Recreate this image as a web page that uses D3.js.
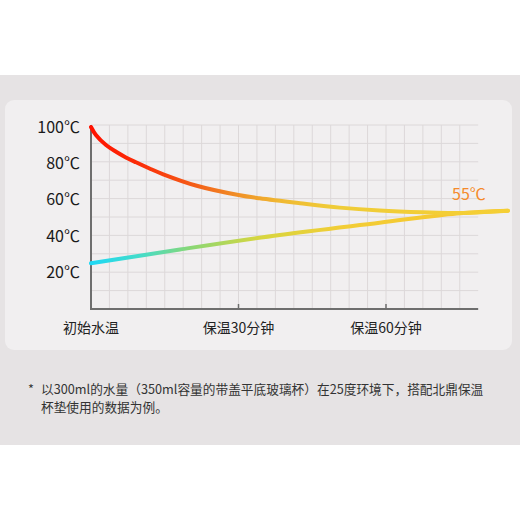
<!DOCTYPE html>
<html>
<head>
<meta charset="utf-8">
<script src="https://cdn.jsdelivr.net/npm/d3@7"></script>
<style>
  html, body { margin: 0; padding: 0; background: #fff; }
  svg { display: block; font-family: "Noto Sans CJK SC", "Noto Sans", sans-serif; }
</style>
</head>
<body>
<div id="chart"></div>
<script>
// minutes / degrees
const hotTime = [0, 1.0, 3.05, 5.1, 7.1, 9.15, 11.9, 14.7, 21.5, 30, 34.3, 42.5, 50.6, 58.7, 67.5, 74.4, 84.8];
const hotTemp = [100, 95.6, 90.1, 86.4, 83.3, 80.6, 77.2, 74.0, 67.7, 62.6, 60.8, 58.1, 55.7, 54.1, 53.1, 52.7, 54];
const coolTime = [0, 18.1, 38.4, 58.7, 74.4, 84.8];
const coolTemp = [25.1, 32.7, 40.7, 47.4, 52.5, 54];

const yTicks = [20, 40, 60, 80, 100];
const xTicks = [0, 30, 60];
const xTickLabels = ["初始水温", "保温30分钟", "保温60分钟"];
const endLabel = "55℃";
const note = [
    "以300ml的水量（350ml容量的带盖平底玻璃杯）在25度环境下，搭配北鼎保温",
    "杯垫使用的数据为例。"
];

const width = 520, height = 520;

const svg = d3.select("#chart")
    .append("svg")
    .attr("width", width)
    .attr("height", height)
    .attr("viewBox", [0, 0, width, height]);

// backgrounds
svg.append("rect").attr("x", 0).attr("y", 75).attr("width", width).attr("height", 370).attr("fill", "#e6e3e4");
svg.append("rect").attr("x", 5).attr("y", 100).attr("width", 507).attr("height", 250)
    .attr("rx", 9).attr("fill", "#f1eff0");

const x = d3.scaleLinear().domain([0, 60]).range([91, 386]);
const y = d3.scaleLinear().domain([0, 100]).range([309, 127]);

const xEnd = 78.75;      // 21 grid columns of 3.75 min
const plotTop = 125;

// grid
const grid = svg.append("g").attr("stroke", "#dcd8d9").attr("stroke-width", 1);
grid.selectAll(".v")
    .data(d3.range(1, 21).map(i => i * 3.75))
    .join("line")
    .attr("x1", d => x(d)).attr("x2", d => x(d))
    .attr("y1", plotTop).attr("y2", y(0));
const rowH = (y(0) - plotTop) / 10;
grid.selectAll(".h")
    .data(d3.range(0, 10))
    .join("line")
    .attr("x1", x(0)).attr("x2", x(xEnd))
    .attr("y1", d => plotTop + d * rowH).attr("y2", d => plotTop + d * rowH);

// axes
svg.append("line")
    .attr("x1", x(0)).attr("x2", x(0))
    .attr("y1", plotTop).attr("y2", y(0))
    .attr("stroke", "#6e6e6e").attr("stroke-width", 2);
svg.append("line")
    .attr("x1", x(0) - 1).attr("x2", x(xEnd))
    .attr("y1", y(0)).attr("y2", y(0))
    .attr("stroke", "#6e6e6e").attr("stroke-width", 2);
svg.append("g")
    .selectAll("line")
    .data(xTicks.slice(1))
    .join("line")
    .attr("x1", d => x(d)).attr("x2", d => x(d))
    .attr("y1", y(0)).attr("y2", y(0) - 5)
    .attr("stroke", "#6e6e6e").attr("stroke-width", 1.5);

// tick labels
svg.append("g")
    .attr("font-size", 16)
    .attr("fill", "#1a1a1a")
    .attr("text-anchor", "end")
    .selectAll("text")
    .data(yTicks)
    .join("text")
    .attr("x", 80)
    .attr("y", d => y(d))
    .attr("dy", "0.35em")
    .text(d => d + "℃");

svg.append("g")
    .attr("font-size", 14)
    .attr("fill", "#222")
    .attr("text-anchor", "middle")
    .selectAll("text")
    .data(xTicks)
    .join("text")
    .attr("x", d => x(d))
    .attr("y", 328)
    .attr("dy", "0.35em")
    .text((d, i) => xTickLabels[i]);

// gradients along x
const defs = svg.append("defs");
const addGradient = (id, stops) => {
    defs.append("linearGradient")
        .attr("id", id)
        .attr("gradientUnits", "userSpaceOnUse")
        .attr("x1", x(0)).attr("x2", x(85))
        .attr("y1", 0).attr("y2", 0)
        .selectAll("stop")
        .data(stops)
        .join("stop")
        .attr("offset", d => d[0])
        .attr("stop-color", d => d[1]);
};
addGradient("hotGrad", [[0, "#ff1200"], [0.12, "#fb2e08"], [0.25, "#f45f18"], [0.36, "#f09428"], [0.45, "#f0b832"], [0.58, "#efcc38"], [1, "#f5cf35"]]);
addGradient("coolGrad", [[0, "#1ed8f5"], [0.12, "#45dcc8"], [0.24, "#8ad774"], [0.4, "#d6d640"], [0.6, "#f2cd36"], [1, "#f8c62e"]]);

const line = d3.line()
    .x(d => x(d[0]))
    .y(d => y(d[1]))
    .curve(d3.curveCatmullRom.alpha(0.5));

svg.append("path")
    .datum(d3.zip(coolTime, coolTemp))
    .attr("d", line)
    .attr("fill", "none")
    .attr("stroke", "url(#coolGrad)")
    .attr("stroke-width", 4)
    .attr("stroke-linecap", "round");

svg.append("path")
    .datum(d3.zip(hotTime, hotTemp))
    .attr("d", line)
    .attr("fill", "none")
    .attr("stroke", "url(#hotGrad)")
    .attr("stroke-width", 4)
    .attr("stroke-linecap", "round");

svg.append("text")
    .attr("x", 469)
    .attr("y", 194)
    .attr("dy", "0.35em")
    .attr("text-anchor", "middle")
    .attr("font-size", 16)
    .attr("fill", "#f58a2a")
    .text(endLabel);

// footnote
const foot = svg.append("g").attr("font-size", 12.7).attr("fill", "#333");
foot.append("text").attr("x", 28).attr("y", 390).attr("dy", "0.35em").text("*");
foot.selectAll(".n")
    .data(note)
    .join("text")
    .attr("x", 41)
    .attr("y", (d, i) => 390 + i * 18)
    .attr("dy", "0.35em")
    .text(d => d);
</script>
</body>
</html>
